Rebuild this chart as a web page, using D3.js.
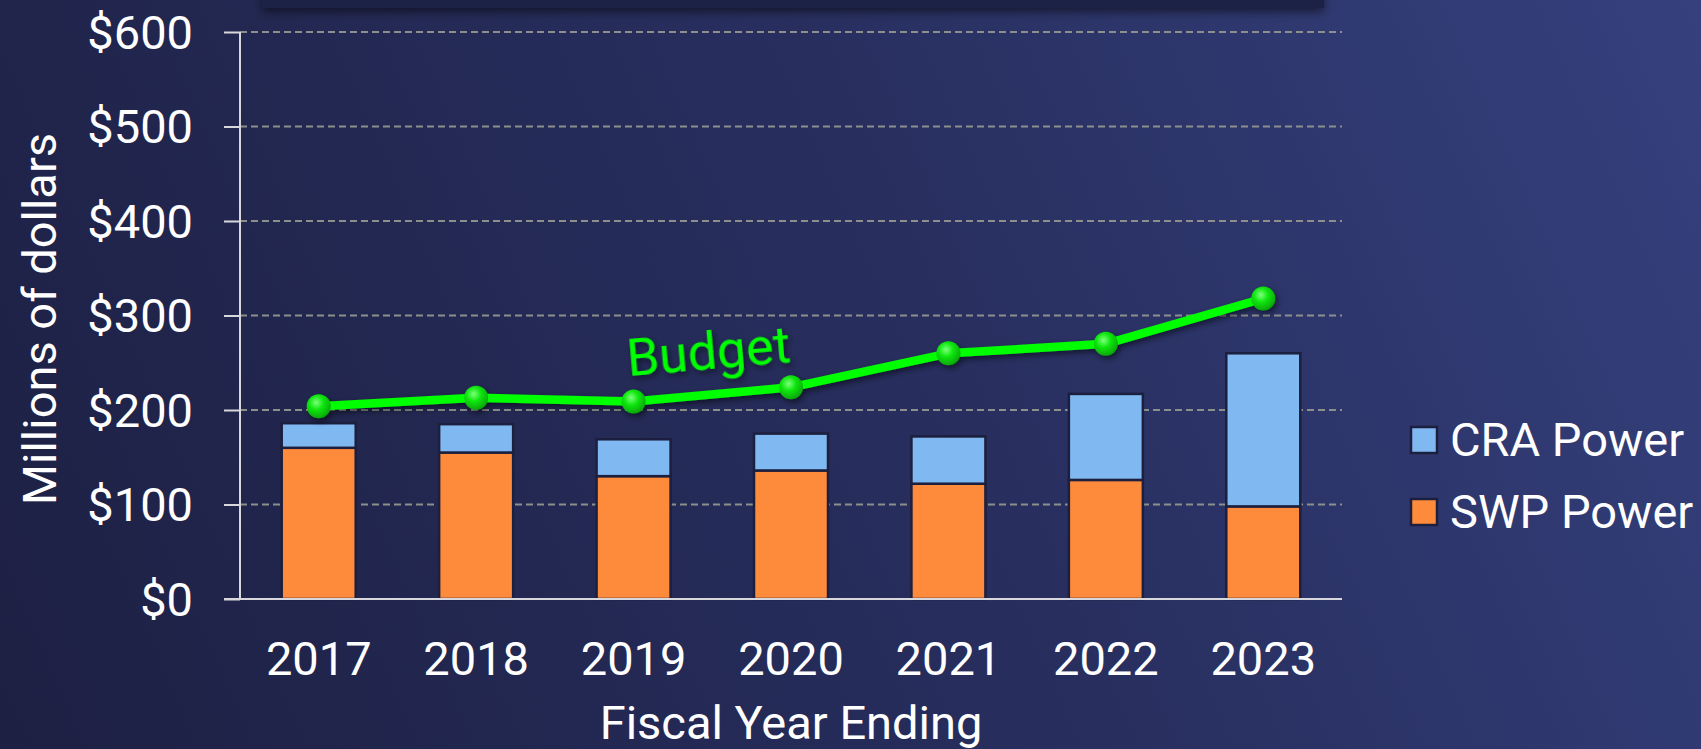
<!DOCTYPE html>
<html>
<head>
<meta charset="utf-8">
<script src="https://cdn.jsdelivr.net/npm/d3@7"></script>
<style>
  html, body { margin: 0; padding: 0; background: #262c58; overflow: hidden; }
  svg { display: block; }
  svg text { font-family: Roboto, 'Noto Sans', sans-serif; }
</style>
</head>
<body>
<svg id="chart" width="1701" height="749"></svg>
<script>
// values (millions of dollars)
const years = ['2017', '2018', '2019', '2020', '2021', '2022', '2023'];
const swpPower = [160, 155, 130, 136, 122, 126, 98];
const craPower = [26, 30, 39, 39, 50, 91, 162];
const budget = [204, 213, 209, 224, 260, 270, 318];
const yTicks = [0, 100, 200, 300, 400, 500, 600];
const seriesNames = ['CRA Power', 'SWP Power'];

const W = 1701;
const H = 749;
const margin = { top: 32, right: 360, bottom: 150, left: 240 };
const font = 'Roboto';
const fontSize = 47;

const colors = { swp: '#fe8b3b', cra: '#80b9f2', line: '#00ff00' };

const svg = d3.select('#chart');
const defs = svg.append('defs');

const bg = defs.append('linearGradient')
    .attr('id', 'bg')
    .attr('gradientUnits', 'userSpaceOnUse')
    .attr('x1', 0).attr('y1', H)
    .attr('x2', W).attr('y2', 0);
bg.append('stop').attr('offset', '0%').attr('stop-color', '#1d2043');
bg.append('stop').attr('offset', '55%').attr('stop-color', '#282f5f');
bg.append('stop').attr('offset', '100%').attr('stop-color', '#35407d');

const dot = defs.append('radialGradient')
    .attr('id', 'dot')
    .attr('cx', '40%').attr('cy', '35%').attr('r', '65%');
dot.append('stop').attr('offset', '0%').attr('stop-color', '#7dff7d');
dot.append('stop').attr('offset', '45%').attr('stop-color', '#10e810');
dot.append('stop').attr('offset', '100%').attr('stop-color', '#06a806');

const shadow = defs.append('filter')
    .attr('id', 'shadow')
    .attr('x', '-20%').attr('y', '-50%')
    .attr('width', '140%').attr('height', '200%');
shadow.append('feDropShadow')
    .attr('dx', 2).attr('dy', 3)
    .attr('stdDeviation', 3)
    .attr('flood-color', '#000')
    .attr('flood-opacity', 0.55);

const boxShadow = defs.append('filter')
    .attr('id', 'boxShadow')
    .attr('x', '-5%').attr('y', '-50%')
    .attr('width', '110%').attr('height', '200%');
boxShadow.append('feDropShadow')
    .attr('dx', 0).attr('dy', 4)
    .attr('stdDeviation', 5)
    .attr('flood-color', '#000')
    .attr('flood-opacity', 0.5);

svg.append('rect')
    .attr('width', W).attr('height', H)
    .attr('fill', 'url(#bg)');

// clipped title box at the very top
svg.append('rect')
    .attr('x', 262).attr('y', -60)
    .attr('width', 1062).attr('height', 68)
    .attr('fill', '#1f2144')
    .attr('filter', 'url(#boxShadow)');

const x = d3.scaleBand()
    .domain(years)
    .range([margin.left, W - margin.right + 1])
    .paddingInner(0.53)
    .paddingOuter(0.265);

const y = d3.scaleLinear()
    .domain([0, 600])
    .range([H - margin.bottom, margin.top]);

const plotRight = 1342;

// dashed gridlines
svg.append('g')
    .selectAll('line')
    .data(yTicks.filter((d) => d > 0))
    .join('line')
    .attr('x1', margin.left)
    .attr('x2', plotRight)
    .attr('y1', (d) => y(d))
    .attr('y2', (d) => y(d))
    .attr('stroke', '#8c8f8c')
    .attr('stroke-width', 2)
    .attr('stroke-dasharray', '7,4');

// stacked bars
const rows = years.map((yr, i) => ({ year: yr, swp: swpPower[i], cra: craPower[i] }));
const stack = d3.stack().keys(['swp', 'cra'])(rows);

svg.append('g')
    .selectAll('g')
    .data(stack)
    .join('g')
    .attr('fill', (s) => colors[s.key])
    .selectAll('rect')
    .data((s) => s)
    .join('rect')
    .attr('x', (d) => x(d.data.year))
    .attr('width', x.bandwidth())
    .attr('y', (d) => y(d[1]))
    .attr('height', (d) => y(d[0]) - y(d[1]))
    .attr('stroke', '#1c1f3e')
    .attr('stroke-width', 2.5);

// axes
const axisY = d3.axisLeft(y)
    .tickValues(yTicks)
    .tickSize(16)
    .tickPadding(31)
    .tickFormat((d) => '$' + d);

const gy = svg.append('g')
    .attr('transform', `translate(${margin.left},0)`)
    .call(axisY)
    .attr('font-family', font);
gy.select('.domain').remove();
gy.selectAll('.tick line').attr('stroke', '#d8d8dc').attr('stroke-width', 2);
gy.selectAll('.tick text')
    .attr('fill', '#ffffff')
    .attr('font-size', fontSize)
    .attr('dy', '0.35em');

svg.append('line')
    .attr('x1', margin.left).attr('x2', margin.left)
    .attr('y1', y(600)).attr('y2', y(0))
    .attr('stroke', '#d8d8dc').attr('stroke-width', 2);

svg.append('line')
    .attr('x1', margin.left - 16).attr('x2', plotRight)
    .attr('y1', y(0)).attr('y2', y(0))
    .attr('stroke', '#d8d8dc').attr('stroke-width', 2);

const axisX = d3.axisBottom(x).tickSize(0).tickPadding(0);
const gx = svg.append('g')
    .attr('transform', `translate(0,${y(0)})`)
    .call(axisX)
    .attr('font-family', font);
gx.select('.domain').remove();
gx.selectAll('.tick text')
    .attr('fill', '#ffffff')
    .attr('font-size', fontSize)
    .attr('dy', 0)
    .attr('y', 76);

svg.append('text')
    .attr('x', 791)
    .attr('y', 739)
    .attr('text-anchor', 'middle')
    .attr('fill', '#ffffff')
    .attr('font-size', fontSize)
    .text('Fiscal Year Ending');

svg.append('text')
    .attr('transform', 'translate(56,319) rotate(-90)')
    .attr('text-anchor', 'middle')
    .attr('fill', '#ffffff')
    .attr('font-size', fontSize)
    .text('Millions of dollars');

// budget line
const cx = (i) => x(years[i]) + x.bandwidth() / 2;
const line = d3.line()
    .x((d, i) => cx(i))
    .y((d) => y(d));

const lineG = svg.append('g').attr('filter', 'url(#shadow)');
lineG.append('path')
    .datum(budget)
    .attr('d', line)
    .attr('fill', 'none')
    .attr('stroke', colors.line)
    .attr('stroke-width', 8.5)
    .attr('stroke-linejoin', 'round');

lineG.selectAll('circle')
    .data(budget)
    .join('circle')
    .attr('cx', (d, i) => cx(i))
    .attr('cy', (d) => y(d))
    .attr('r', 12)
    .attr('fill', 'url(#dot)');

svg.append('text')
    .attr('transform', 'translate(710,369) rotate(-5)')
    .attr('text-anchor', 'middle')
    .attr('fill', colors.line)
    .attr('font-size', 52)
    .attr('filter', 'url(#shadow)')
    .text('Budget');

// legend
const legend = svg.append('g')
    .selectAll('g')
    .data(seriesNames)
    .join('g')
    .attr('transform', (d, i) => `translate(1411,${427 + i * 72})`);

legend.append('rect')
    .attr('width', 26).attr('height', 26)
    .attr('fill', (d, i) => (i === 0 ? colors.cra : colors.swp))
    .attr('stroke', '#1c1f3e')
    .attr('stroke-width', 2.5);

legend.append('text')
    .attr('x', 39)
    .attr('y', 13)
    .attr('dy', '0.35em')
    .attr('fill', '#ffffff')
    .attr('font-size', fontSize)
    .text((d) => d);
</script>
</body>
</html>
